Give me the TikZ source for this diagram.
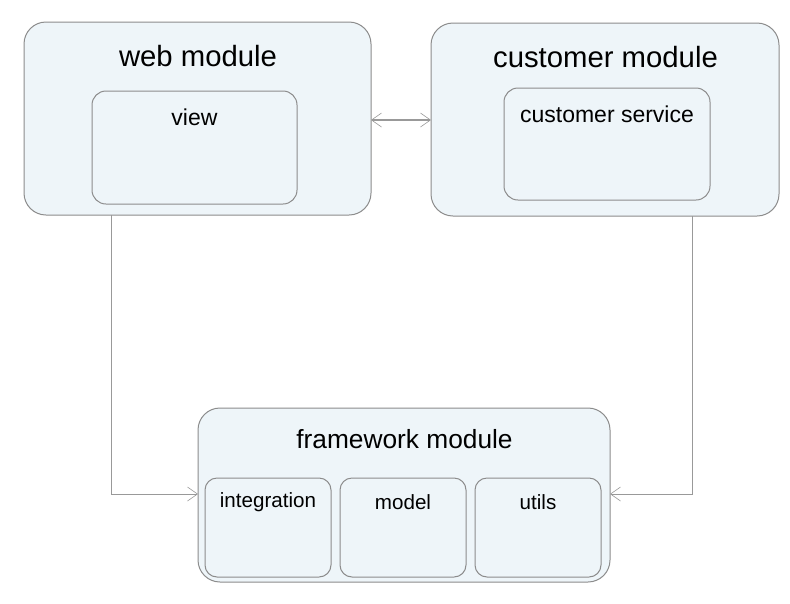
\documentclass[tikz,border=0pt]{standalone}
\usepackage{fontspec}
\setmainfont{Liberation Sans}
\usetikzlibrary{arrows.meta}
\definecolor{boxfill}{HTML}{EEF5F9}
\definecolor{boxline}{HTML}{8C8C8C}
\definecolor{conn}{HTML}{999999}
\tikzset{
  module/.style={draw=boxline, fill=boxfill, line width=1pt, rounded corners=22pt, inner sep=0pt},
  inner/.style={draw=boxline, fill=boxfill, line width=1pt, rounded corners=14pt, inner sep=0pt},
  title/.style={font=\fontsize{29.3}{32}\selectfont, inner sep=0pt},
  subtitle/.style={font=\fontsize{23}{26}\selectfont, inner sep=0pt},
  small/.style={font=\fontsize{20.6}{24}\selectfont, inner sep=0pt},
  conn/.style={draw=conn, line width=1pt, -{Straight Barb[length=10pt,width=14pt,line width=0.6pt]}},
}
\begin{document}
\begin{tikzpicture}[x=1pt,y=-1pt]
\useasboundingbox (0,0) rectangle (790,603);
% modules
\draw[module] (24,22) rectangle (371,215);
\node[title] (webt) at (198,56) {web module};
\draw[inner] (92,91) rectangle (297,204);
\node[subtitle] (viewt) at (194.5,117) {view};

\draw[module] (431,23) rectangle (779,216);
\node[title] (custt) at (605.5,57) {customer module};
\draw[inner] (504,88) rectangle (710,200);
\node[subtitle] (servt) at (607,114) {customer service};

\draw[module] (198,408) rectangle (610,582);
\node[title,font=\fontsize{26.3}{30}\selectfont] (fwt) at (404.5,439) {framework module};
\draw[inner,rounded corners=12pt] (205,478) rectangle (331,577);
\node[small] (intt) at (268,502) {integration};
\draw[inner,rounded corners=12pt] (340,478) rectangle (466,577);
\node[small] (modt) at (403,502) {model};
\draw[inner,rounded corners=12pt] (475,478) rectangle (601,577);
\node[small] (utilt) at (538,502) {utils};

% connector coordinates
\coordinate (webR) at (371,120);
\coordinate (custL) at (431,120);
\coordinate (webB) at (111,215);
\coordinate (custB) at (692,216);
\coordinate (fwL) at (198,494);
\coordinate (fwR) at (610,494);

\draw[conn, line width=1.6pt, {Straight Barb[length=10pt,width=14pt,line width=0.6pt]}-{Straight Barb[length=10pt,width=14pt,line width=0.6pt]}] (webR) -- (custL);
\draw[conn] (webB) |- (fwL);
\draw[conn] (custB) |- (fwR);
\end{tikzpicture}
\end{document}
